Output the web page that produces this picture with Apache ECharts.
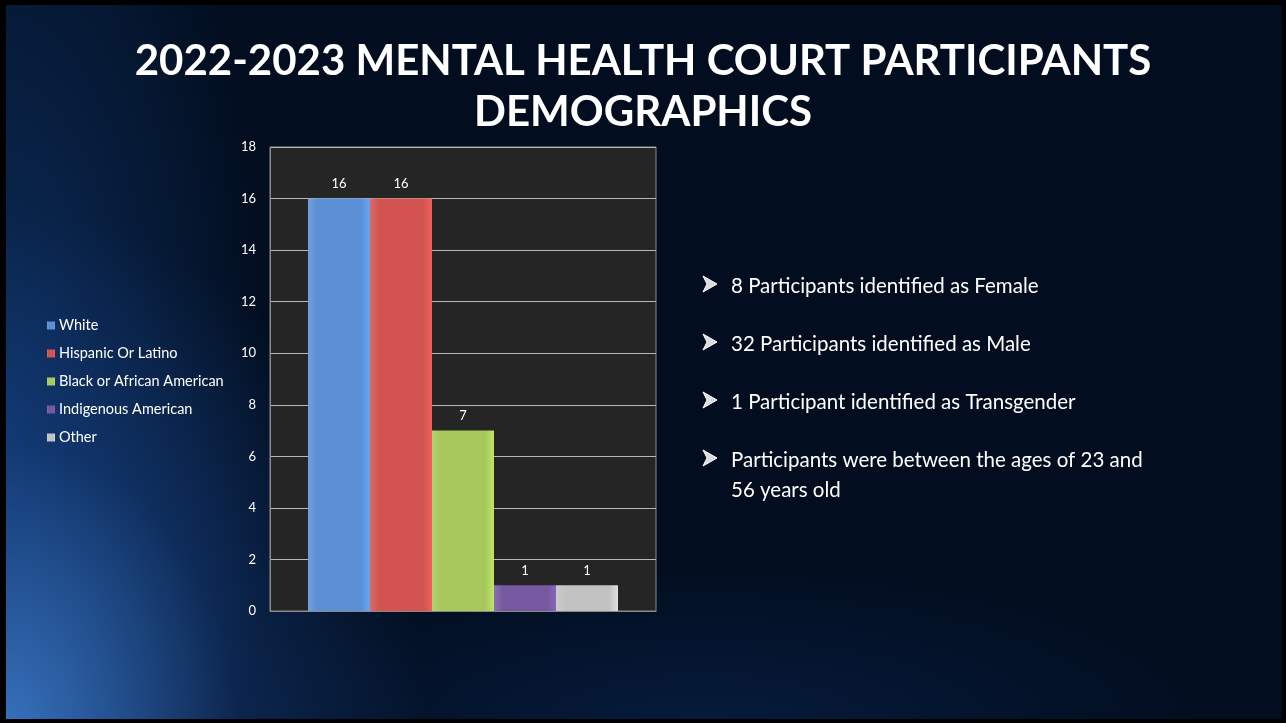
<!DOCTYPE html>
<html>
<head>
<meta charset="utf-8">
<script src="https://cdn.jsdelivr.net/npm/echarts@6/dist/echarts.min.js"></script>
<style>
  html, body { margin: 0; padding: 0; background: #000; }
  #frame {
    position: absolute; left: 0; top: 0; width: 1286px; height: 723px;
    box-sizing: border-box; border-style: solid; border-color: #000;
    border-width: 5px 4px 4px 6px;
    background:
      radial-gradient(ellipse 420px 520px at 0px 723px, rgba(70,140,230,0.75), rgba(30,80,160,0.35) 55%, rgba(2,15,34,0) 100%),
      radial-gradient(ellipse 260px 700px at 0px 420px, rgba(20,70,140,0.55), rgba(2,15,34,0) 100%),
      radial-gradient(ellipse 500px 160px at 700px 723px, rgba(10,40,90,0.5), rgba(2,15,34,0) 100%),
      #020e20;
  }
  #main { position: absolute; left: 0; top: 0; width: 1286px; height: 723px; }
</style>
</head>
<body>
<div id="frame"></div>
<div id="main"></div>
<script>
// 系列名称（图例）
var groups = ['White', 'Hispanic Or Latino', 'Black or African American', 'Indigenous American', 'Other'];
// 每个系列的人数
var counts = [16, 16, 7, 1, 1];
// 柱子颜色
var colors = ['#5b8fd5', '#d2534f', '#a6c85c', '#7558a0', '#c2c2c2'];
// 右侧说明文字
var notes = [
  '8 Participants identified as Female',
  '32 Participants identified as Male',
  '1 Participant identified as Transgender',
  'Participants were between the ages of 23 and\n56 years old'
];
var titleLines = ['2022-2023 MENTAL HEALTH COURT PARTICIPANTS', 'DEMOGRAPHICS'];

var myChart = echarts.init(document.getElementById('main'));

function shade(c) {
  return new echarts.graphic.LinearGradient(0, 0, 1, 0, [
    {offset: 0, color: echarts.color.lift(c, 0.15)},
    {offset: 0.15, color: c},
    {offset: 0.85, color: c},
    {offset: 1, color: echarts.color.lift(c, -0.15)}
  ]);
}

var series = [];
for (var i = 0; i < groups.length; i++) {
  series.push({
    name: groups[i],
    type: 'bar',
    barWidth: 62,
    barGap: '0%',
    data: [counts[i]],
    itemStyle: { color: shade(colors[i]) },
    label: {
      show: true, position: 'top', distance: 8,
      color: '#fff', fontSize: 13, fontFamily: 'Lato'
    }
  });
}

// 右侧文字（箭头符号 + 文本）
var graphics = [];
var rowY = [284, 342, 400, 458];
for (var j = 0; j < notes.length; j++) {
  graphics.push({
    type: 'polygon', x: 703, y: rowY[j] - 8,
    shape: { points: [[0, 0], [14, 8], [0, 16], [4, 8]] },
    style: { fill: '#dcdcdc', stroke: '#fff', lineWidth: 1 }
  });
  graphics.push({
    type: 'text', left: 731, top: rowY[j] - 13,
    style: { text: notes[j], fill: '#fff', font: '20.5px Lato', lineHeight: 30 }
  });
}

var option = {
  backgroundColor: 'transparent',
  title: [
    {
      text: titleLines[0], left: 'center', top: 35,
      textStyle: { color: '#fff', fontSize: 42, fontWeight: 'bold', fontFamily: 'Lato' }
    },
    {
      text: titleLines[1], left: 'center', top: 86,
      textStyle: { color: '#fff', fontSize: 42, fontWeight: 'bold', fontFamily: 'Lato' }
    }
  ],
  legend: {
    orient: 'vertical', left: 42, top: 313,
    itemWidth: 8, itemHeight: 8, itemGap: 13, icon: 'rect',
    textStyle: { color: '#fff', fontSize: 14.5, fontFamily: 'Lato', padding: [0, 0, 0, -1] },
    data: groups
  },
  grid: {
    left: 270, top: 147, width: 386, height: 464,
    show: true, backgroundColor: '#252525', borderColor: '#8a8a8a', borderWidth: 1
  },
  xAxis: {
    type: 'category', data: [''],
    axisLine: { lineStyle: { color: '#8a8a8a' } },
    axisTick: { show: false }, axisLabel: { show: false }
  },
  yAxis: {
    type: 'value', min: 0, max: 18, interval: 2,
    axisLine: { show: true, lineStyle: { color: '#8a8a8a' } },
    axisTick: { show: false },
    axisLabel: { color: '#fff', fontSize: 13, fontFamily: 'Lato', margin: 14 },
    splitLine: { lineStyle: { color: '#b8b8b8', width: 1 } }
  },
  series: series,
  graphic: graphics
};

myChart.setOption(option);
</script>
</body>
</html>
